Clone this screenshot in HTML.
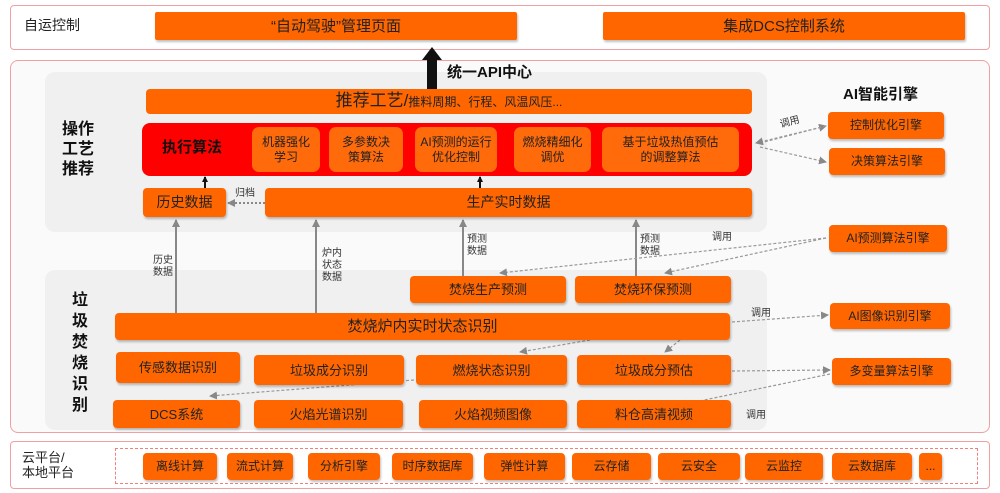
<!DOCTYPE html><html><head><meta charset="utf-8"><style>
body{margin:0;width:1000px;height:493px;background:#fff;font-family:"Liberation Sans","Noto Sans CJK SC",sans-serif;position:relative;overflow:hidden}
.a{position:absolute;box-sizing:border-box}
.o{position:absolute;box-sizing:border-box;background:#ff6600;border-radius:4px;color:#222;display:flex;align-items:center;justify-content:center;text-align:center;font-size:13px;line-height:15px;box-shadow:1px 2px 2px rgba(0,0,0,.25)}
.s{background:#ff6a0a;border-radius:7px;box-shadow:none;font-size:12px}
.t{position:absolute;color:#333;font-size:10px;line-height:12px}
</style></head><body>
<div class="a" style="left:10px;top:5px;width:980px;height:45px;border:1px solid #f0a0a0;border-radius:4px"></div>
<div class="t" style="left:24px;top:17px;font-size:14px;line-height:16px;color:#222">自运控制</div>
<div class="o" style="left:155px;top:12px;width:362px;height:28px;font-size:15px;border-radius:2px">“自动驾驶”管理页面</div>
<div class="o" style="left:603px;top:12px;width:362px;height:28px;font-size:15px;border-radius:2px">集成DCS控制系统</div>
<div class="a" style="left:10px;top:60px;width:980px;height:373px;border:1px solid #f0a0a0;border-radius:8px;background:#fafafa"></div>
<div class="a" style="left:45px;top:72px;width:722px;height:160px;background:#f0f0f0;border-radius:10px"></div>
<div class="a" style="left:45px;top:270px;width:722px;height:160px;background:#f0f0f0;border-radius:10px"></div>
<div class="a" style="left:10px;top:441px;width:980px;height:48px;border:1px solid #f0a0a0;border-radius:4px"></div>
<div class="a" style="left:115px;top:448px;width:863px;height:36px;border:1px dashed #f08080"></div>
<div class="t" style="left:22px;top:450px;font-size:13px;line-height:15px;color:#222">云平台/<br>本地平台</div>
<div class="t" style="left:62px;top:120px;font-size:16px;line-height:20px;font-weight:bold;color:#111">操作<br>工艺<br>推荐</div>
<div class="t" style="left:72px;top:290px;font-size:16px;line-height:21px;font-weight:bold;color:#111;width:18px">垃圾焚烧识别</div>
<div class="t" style="left:447px;top:64px;font-size:15px;line-height:18px;font-weight:bold;color:#111">统一API中心</div>
<div class="t" style="left:843px;top:86px;font-size:15px;line-height:18px;font-weight:bold;color:#111">AI智能引擎</div>
<svg class="a" style="left:0;top:0" width="1000" height="493">
<defs><marker id="g" markerUnits="userSpaceOnUse" markerWidth="8" markerHeight="8" refX="7" refY="4" orient="auto"><path d="M0,0L8,4L0,8z" fill="#888"/></marker>
<marker id="k" markerUnits="userSpaceOnUse" markerWidth="6" markerHeight="6" refX="5" refY="3" orient="auto"><path d="M0,0L6,3L0,6z" fill="#111"/></marker></defs>
<path d="M427,90V60H422L432,47L442,60H437V90z" fill="#111"/>
<line x1="205" y1="188" x2="205" y2="177" stroke="#111" stroke-width="2" marker-end="url(#k)"/>
<line x1="480" y1="188" x2="480" y2="177" stroke="#111" stroke-width="2" marker-end="url(#k)"/>
<g stroke="#888" stroke-width="2" fill="none">
<line x1="176" y1="313" x2="176" y2="220" marker-end="url(#g)"/>
<line x1="316" y1="313" x2="316" y2="220" marker-end="url(#g)"/>
<line x1="463" y1="276" x2="463" y2="220" marker-end="url(#g)"/>
<line x1="636" y1="276" x2="636" y2="220" marker-end="url(#g)"/>
<line x1="265" y1="203" x2="228" y2="203" stroke-dasharray="2,2" marker-end="url(#g)"/>
</g>
<g stroke="#999" stroke-width="1.2" fill="none" stroke-dasharray="3,2" marker-end="url(#g)">
<line x1="760" y1="143" x2="826" y2="126"/><line x1="826" y1="126" x2="756" y2="143"/>
<line x1="760" y1="147" x2="826" y2="162"/>
<line x1="826" y1="238" x2="500" y2="273"/><line x1="826" y1="238" x2="665" y2="273"/>
<line x1="732" y1="322" x2="828" y2="315"/><line x1="590" y1="340" x2="520" y2="352"/><line x1="680" y1="340" x2="665" y2="352"/>
<line x1="732" y1="371" x2="830" y2="370"/><line x1="414" y1="380" x2="210" y2="396"/><line x1="830" y1="374" x2="680" y2="405"/>
</g></svg>
<div class="t" style="left:780px;top:117px;transform:rotate(-15deg)">调用</div>
<div class="t" style="left:712px;top:232px">调用</div>
<div class="t" style="left:751px;top:308px">调用</div>
<div class="t" style="left:746px;top:410px">调用</div>
<div class="t" style="left:235px;top:188px">归档</div>
<div class="t" style="left:153px;top:255px">历史<br>数据</div>
<div class="t" style="left:322px;top:248px">炉内<br>状态<br>数据</div>
<div class="t" style="left:467px;top:234px">预测<br>数据</div>
<div class="t" style="left:640px;top:234px">预测<br>数据</div>
<div class="o" style="left:146px;top:89px;width:606px;height:25px;font-size:17px;box-shadow:none"><span>推荐工艺/<span style="font-size:12px">推料周期、行程、风温风压...</span></span></div>
<div class="a" style="left:142px;top:123px;width:610px;height:53px;background:#ff0000;border-radius:8px"></div>
<div class="t" style="left:162px;top:139px;font-size:15px;line-height:18px;font-weight:bold;color:#111">执行算法</div>
<div class="o s" style="left:252px;top:127px;width:68px;height:45px">机器强化<br>学习</div>
<div class="o s" style="left:329px;top:127px;width:74px;height:45px">多参数决<br>策算法</div>
<div class="o s" style="left:415px;top:127px;width:82px;height:45px">AI预测的运行<br>优化控制</div>
<div class="o s" style="left:514px;top:127px;width:77px;height:45px">燃烧精细化<br>调优</div>
<div class="o s" style="left:602px;top:127px;width:137px;height:45px">基于垃圾热值预估<br>的调整算法</div>
<div class="o" style="left:143px;top:188px;width:83px;height:29px;font-size:14px">历史数据</div>
<div class="o" style="left:265px;top:188px;width:487px;height:29px;font-size:14px">生产实时数据</div>
<div class="o" style="left:410px;top:276px;width:156px;height:27px">焚烧生产预测</div>
<div class="o" style="left:575px;top:276px;width:156px;height:27px">焚烧环保预测</div>
<div class="o" style="left:115px;top:313px;width:615px;height:27px;font-size:15px">焚烧炉内实时状态识别</div>
<div class="o" style="left:116px;top:352px;width:124px;height:31px">传感数据识别</div>
<div class="o" style="left:254px;top:355px;width:150px;height:30px">垃圾成分识别</div>
<div class="o" style="left:416px;top:355px;width:151px;height:30px">燃烧状态识别</div>
<div class="o" style="left:577px;top:355px;width:154px;height:30px">垃圾成分预估</div>
<div class="o" style="left:113px;top:400px;width:127px;height:28px">DCS系统</div>
<div class="o" style="left:254px;top:400px;width:149px;height:28px">火焰光谱识别</div>
<div class="o" style="left:419px;top:400px;width:148px;height:28px">火焰视频图像</div>
<div class="o" style="left:577px;top:400px;width:154px;height:28px">料仓高清视频</div>
<div class="o" style="left:828px;top:112px;width:116px;height:27px;font-size:12px">控制优化引擎</div>
<div class="o" style="left:829px;top:148px;width:116px;height:27px;font-size:12px">决策算法引擎</div>
<div class="o" style="left:829px;top:225px;width:118px;height:27px;font-size:12px">AI预测算法引擎</div>
<div class="o" style="left:830px;top:303px;width:120px;height:26px;font-size:12px">AI图像识别引擎</div>
<div class="o" style="left:832px;top:358px;width:119px;height:27px;font-size:12px">多变量算法引擎</div>
<div class="o" style="left:143px;top:453px;width:74px;height:27px;font-size:12px">离线计算</div>
<div class="o" style="left:227px;top:453px;width:66px;height:27px;font-size:12px">流式计算</div>
<div class="o" style="left:308px;top:453px;width:72px;height:27px;font-size:12px">分析引擎</div>
<div class="o" style="left:392px;top:453px;width:81px;height:27px;font-size:12px">时序数据库</div>
<div class="o" style="left:484px;top:453px;width:81px;height:27px;font-size:12px">弹性计算</div>
<div class="o" style="left:572px;top:453px;width:79px;height:27px;font-size:12px">云存储</div>
<div class="o" style="left:658px;top:453px;width:82px;height:27px;font-size:12px">云安全</div>
<div class="o" style="left:745px;top:453px;width:78px;height:27px;font-size:12px">云监控</div>
<div class="o" style="left:832px;top:453px;width:80px;height:27px;font-size:12px">云数据库</div>
<div class="o" style="left:919px;top:453px;width:23px;height:27px;font-size:12px">...</div>
</body></html>
